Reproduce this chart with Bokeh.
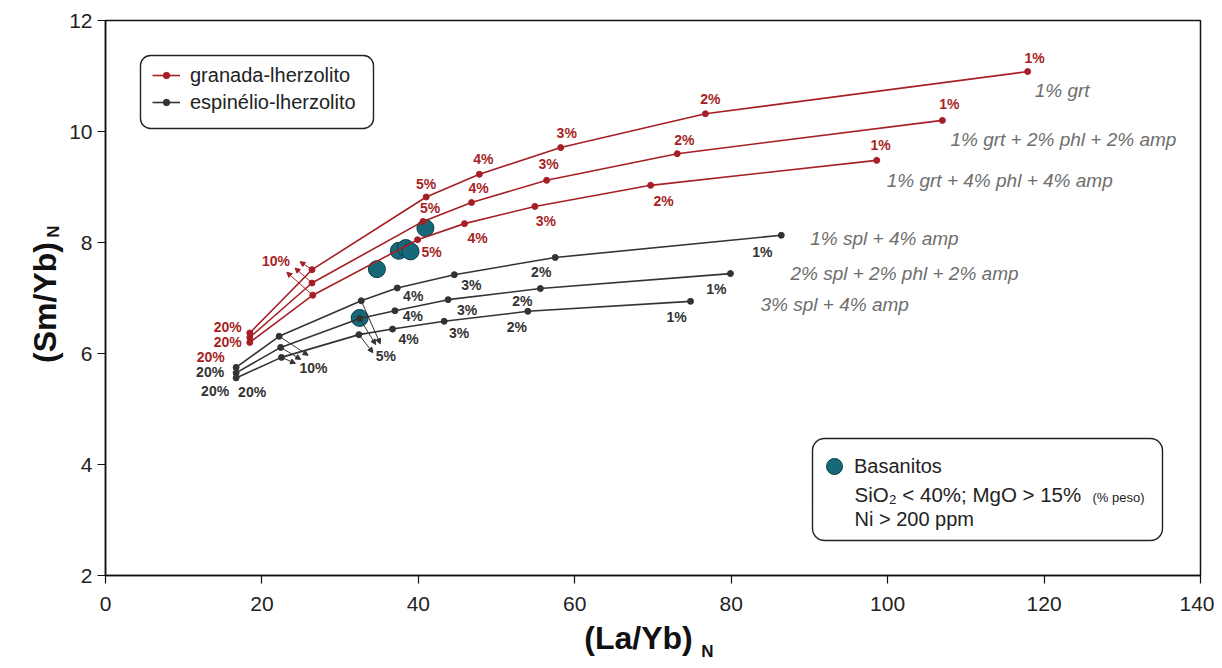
import numpy as np
from bokeh.plotting import figure
from bokeh.models import (Range1d, ColumnDataSource, Label, Legend, LegendItem,
                          BoxAnnotation, Arrow, NormalHead)
from bokeh.embed import file_html
from bokeh.resources import INLINE
from bokeh.core.properties import value

# ---------------- data ----------------
melt_steps = ["1%", "2%", "3%", "4%", "5%", "10%", "20%"]

# garnet-lherzolite melting curves
grt1_x = [117.9, 76.7, 58.2, 47.8, 41.0, 26.4, 18.45]
grt1_y = [11.08, 10.32, 9.71, 9.23, 8.82, 7.51, 6.37]
grt2_x = [107.0, 73.1, 56.4, 46.8, 40.6, 26.4, 18.45]
grt2_y = [10.20, 9.60, 9.12, 8.72, 8.38, 7.27, 6.29]
grt3_x = [98.6, 69.7, 54.9, 45.9, 39.9, 26.5, 18.45]
grt3_y = [9.48, 9.03, 8.65, 8.34, 8.05, 7.05, 6.20]
# spinel-lherzolite melting curves
spl1_x = [86.4, 57.5, 44.6, 37.3, 32.7, 22.2, 16.7]
spl1_y = [8.13, 7.73, 7.42, 7.18, 6.95, 6.31, 5.75]
spl2_x = [79.9, 55.6, 43.8, 37.0, 32.5, 22.4, 16.7]
spl2_y = [7.44, 7.17, 6.97, 6.77, 6.63, 6.11, 5.65]
spl3_x = [74.8, 54.0, 43.3, 36.7, 32.4, 22.5, 16.7]
spl3_y = [6.94, 6.76, 6.58, 6.44, 6.34, 5.93, 5.56]

curve_names = ["1% grt", "1% grt + 2% phl + 2% amp", "1% grt + 4% phl + 4% amp",
               "1% spl  + 4% amp", "2% spl  + 2% phl + 2% amp", "3% spl  + 4% amp"]

# which melt-step labels are printed on each curve
grt1_lab = ["1%", "2%", "3%", "4%", "5%", "10%", "20%"]
grt2_lab = ["1%", "2%", "3%", "4%", "5%", "", "20%"]
grt3_lab = ["1%", "2%", "3%", "4%", "5%", "", "20%"]
spl1_lab = ["1%", "2%", "3%", "4%", "", "", "20%"]
spl2_lab = ["1%", "2%", "3%", "4%", "", "", "20%"]
spl3_lab = ["1%", "2%", "3%", "4%", "5%", "10%", "20%"]

# basanites
bas_x = [40.9, 37.5, 38.4, 39.0, 34.7, 32.5]
bas_y = [8.26, 7.85, 7.90, 7.84, 7.52, 6.64]

x_ticks = [0, 20, 40, 60, 80, 100, 120, 140]
y_ticks = [2, 4, 6, 8, 10, 12]

# ---------------- styles ----------------
RED = "#a61f26"
DARK = "#333333"
GREY = "#6e6e6e"
TEAL = "#17697a"
FONT = "Liberation Sans"

# label offsets (screen px) for each point of each curve
grt1_off = [(7, -14), (5, -15), (6, -15), (4, -15), (0, -13), (-36, -9), (-22, -6)]
grt2_off = [(7, -16), (7, -14), (2, -16), (7, -15), (7, -13), (0, 0), (-22, 5)]
grt3_off = [(4, -15), (13, 16), (11, 15), (13, 14), (14, 12), (0, 0), (-39, 15)]
spl1_off = [(-19, 17), (-14, 15), (17, 10), (16, 8), (0, 0), (0, 0), (-26, 5)]
spl2_off = [(-14, 15), (-18, 12), (19, 10), (18, 5), (0, 0), (0, 0), (-21, 18)]
spl3_off = [(-14, 16), (-11, 16), (15, 12), (16, 10), (27, 21), (32, 11), (16, 14)]
name_off = [(7, 19), (8, 19), (10, 20), (29, 3), (60, 0), (70, 3)]

W, H = 1214, 660
ML, MR, MT, MB = 105, 14, 20, 85
PXX = (W - ML - MR) / 140.0
PXY = (H - MT - MB) / 10.0

p = figure(width=W, height=H, output_backend="svg", toolbar_location=None,
           x_range=Range1d(0, 140), y_range=Range1d(2, 12),
           min_border_left=ML, min_border_right=MR, min_border_top=MT, min_border_bottom=MB)
p.xgrid.visible = False
p.ygrid.visible = False
p.outline_line_color = "#111111"
p.outline_line_width = 1.5
p.background_fill_color = "white"
for ax, ticks in ((p.xaxis[0], x_ticks), (p.yaxis[0], y_ticks)):
    ax.ticker = ticks
    ax.axis_line_color = "#111111"
    ax.axis_line_width = 1.5
    ax.major_tick_line_color = "#111111"
    ax.major_tick_line_width = 1.2
    ax.major_tick_out = 8
    ax.major_tick_in = 0
    ax.minor_tick_line_color = None
    ax.major_label_text_font = FONT
    ax.major_label_text_font_size = "21px"
    ax.major_label_text_color = "#222222"
p.xaxis.major_label_standoff = 13
p.yaxis.major_label_standoff = 5

# basanite circles (under the curves)
bas_r = p.scatter(bas_x, bas_y, size=17, fill_color=TEAL, line_color="#0c3d47", line_width=1)

curves = [(grt1_x, grt1_y, grt1_lab, grt1_off, RED),
          (grt2_x, grt2_y, grt2_lab, grt2_off, RED),
          (grt3_x, grt3_y, grt3_lab, grt3_off, RED),
          (spl1_x, spl1_y, spl1_lab, spl1_off, DARK),
          (spl2_x, spl2_y, spl2_lab, spl2_off, DARK),
          (spl3_x, spl3_y, spl3_lab, spl3_off, DARK)]

renderers = []
for i, (cx, cy, lab, off, col) in enumerate(curves):
    lr = p.line(cx, cy, line_color=col, line_width=1.6)
    sr = p.scatter(cx, cy, size=6, fill_color=col, line_color=col)
    renderers.append((lr, sr))
    src = ColumnDataSource(dict(x=cx, y=cy, t=lab,
                                dx=[o[0] for o in off], dy=[o[1] for o in off]))
    p.text("x", "y", text="t", x_offset="dx", y_offset="dy", source=src,
           text_font=value(FONT), text_font_style="bold", text_font_size="14px",
           text_color=col, text_align="center", text_baseline="middle")
    # italic curve name at the 1% end
    p.text([cx[0]], [cy[0]], text=[curve_names[i]], x_offset=name_off[i][0],
           y_offset=name_off[i][1], text_font=value(FONT), text_font_style="italic",
           text_font_size="19px", text_color=GREY, text_align="left",
           text_baseline="middle")

# small arrows at 10% and 5% steps
def add_arrows(idx, curve_ids, offs, col):
    xs0, ys0, xs1, ys1 = [], [], [], []
    for c, (ox, oy) in zip(curve_ids, offs):
        x0, y0 = curves[c][0][idx], curves[c][1][idx]
        xs0.append(x0); ys0.append(y0)
        xs1.append(x0 + ox / PXX); ys1.append(y0 - oy / PXY)
    src = ColumnDataSource(dict(x0=xs0, y0=ys0, x1=xs1, y1=ys1))
    p.add_layout(Arrow(end=NormalHead(size=5, fill_color=col, line_color=col),
                       x_start="x0", y_start="y0", x_end="x1", y_end="y1",
                       line_color=col, line_width=1, source=src))

add_arrows(5, [0, 1, 2], [(-12, -8), (-17, -15), (-26, -23)], RED)
add_arrows(5, [3, 4, 5], [(29, 19), (20, 12), (14, 6)], DARK)
add_arrows(4, [3, 4, 5], [(19, 43), (16, 26), (14, 18)], DARK)

# ---------- helpers for layout positions (canvas px -> data) ----------
def wx(px):
    return (px - ML) / PXX

def wy(py):
    return 12 - (py - MT) / PXY

# legend 1 (rounded box)
p.add_layout(BoxAnnotation(left=wx(140), right=wx(373), top=wy(55), bottom=wy(128),
                           fill_color="white", fill_alpha=1, line_color="#222222",
                           line_alpha=1, line_width=1.4, border_radius=10,
                           level="annotation"))
leg1 = Legend(items=[LegendItem(label="granada-lherzolito", renderers=list(renderers[0])),
                     LegendItem(label="espinélio-lherzolito", renderers=list(renderers[3]))],
              location=(144 - ML, (H - MB) - 121.5), margin=0, padding=8, spacing=4,
              label_height=20, glyph_height=16, glyph_width=28, label_standoff=10,
              label_text_font=FONT, label_text_font_size="20px", label_text_color="#222222",
              background_fill_alpha=0, border_line_alpha=0)
p.add_layout(leg1)

# legend 2 (basanites)
p.add_layout(BoxAnnotation(left=wx(812), right=wx(1162), top=wy(438), bottom=wy(540),
                           fill_color="white", fill_alpha=1, line_color="#222222",
                           line_alpha=1, line_width=1.4, border_radius=12,
                           level="annotation"))
leg2 = Legend(items=[LegendItem(label="Basanitos", renderers=[bas_r])],
              location=(814 - ML, (H - MB) - 486), margin=0, padding=0,
              label_height=20, glyph_height=40, glyph_width=40, label_standoff=0,
              label_text_font=FONT, label_text_font_size="20px", label_text_color="#222222",
              background_fill_alpha=0, border_line_alpha=0)
p.add_layout(leg2)

for txt, px, py, fs in (("SiO₂ < 40%; MgO > 15%", 854, 494, "20.5px"),
                        ("(% peso)", 1092, 497, "13px"),
                        ("Ni > 200 ppm", 854, 518, "20px")):
    p.add_layout(Label(x=wx(px), y=wy(py), text=txt, text_font=FONT, text_font_size=fs,
                       text_color="#222222", text_align="left", text_baseline="middle"))

# axis titles with subscript N (placed in side panels so they are not clipped)
p.add_layout(Label(x=wx(638), y=wy(637), text="(La/Yb)", text_font=FONT,
                   text_font_size="32px", text_font_style="bold", text_color="#111111",
                   text_align="center", text_baseline="middle"), "below")
p.add_layout(Label(x=wx(707), y=wy(651), text="N", text_font=FONT,
                   text_font_size="17px", text_font_style="bold", text_color="#111111",
                   text_align="center", text_baseline="middle"), "right")
p.add_layout(Label(x=wx(44), y=wy(302), text="(Sm/Yb)", text_font=FONT, angle=np.pi / 2,
                   text_font_size="32px", text_font_style="bold", text_color="#111111",
                   text_align="center", text_baseline="middle"), "left")
p.add_layout(Label(x=wx(53), y=wy(231), text="N", text_font=FONT, angle=np.pi / 2,
                   text_font_size="17px", text_font_style="bold", text_color="#111111",
                   text_align="center", text_baseline="middle"), "above")

open("out.html", "w").write(file_html(p, INLINE))
